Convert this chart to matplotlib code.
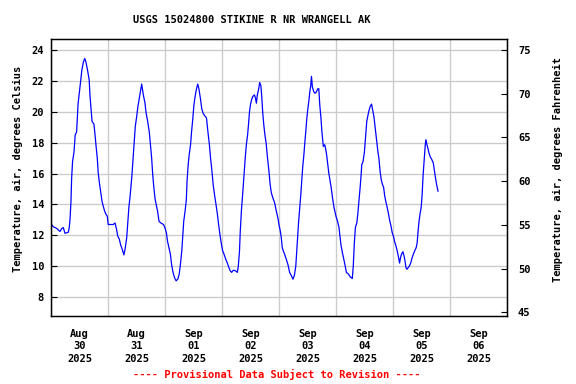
import pandas as pd
import numpy as np
import matplotlib
matplotlib.use("Agg")
import matplotlib.pyplot as plt
import matplotlib.dates as mdates

# heures depuis 2025-08-30 00:00
hours = [
    0, 1, 2.4, 3.8, 4.6, 5.2, 5.9, 7.3, 7.7, 8, 8.4, 8.7, 9.1, 9.7, 10.2, 10.8, 11.4, 12, 12.5, 13,
    13.6, 14.2, 14.7, 15.4, 16.1, 16.4, 17, 17.3, 18.1, 18.5, 19, 19.5, 19.9, 20.4, 20.9, 21.5, 22,
    22.6, 23.2, 23.7, 24.1, 24.8, 26.2, 27, 27.6, 28.1, 28.8, 29.3, 30, 30.7, 31.2, 31.9, 32.3, 32.8,
    33.3, 33.7, 34.1, 34.5, 35.1, 35.5, 36.1, 36.6, 37.2, 37.8, 38.2, 38.9, 39.6,
    40, 40.7, 41.4, 41.8, 42.4, 42.8, 43.2, 43.8, 44.3, 44.9, 45.5, 46.3, 47.4, 48, 48.6, 49.1, 49.7,
    50.3, 50.8, 51.4, 52, 52.7, 53.4, 54, 54.5, 55.1, 55.5, 55.9, 56.5, 57, 57.3, 57.8, 58.2, 58.8,
    59.2, 59.7, 60.2, 60.7, 61.3, 61.8, 62.3, 63, 63.5, 64.1, 64.7, 65.5, 66.1, 66.7, 67.2, 67.8,
    68.3, 68.9, 69.5, 70.1, 70.6, 71.2, 71.8, 72.3, 72.9, 73.6, 74.3, 74.8, 75.5, 76.1, 76.8, 77.7,
    78.5, 78.9,
    79.4, 79.7, 80.2, 80.6, 81.1, 81.5, 81.9, 82.3, 82.8, 83.2, 83.6, 84, 84.5, 85, 85.7, 86.1, 86.5,
    86.9, 87.5, 87.9, 88.4, 88.8, 89.2, 89.6, 90.1, 90.6, 91.2, 91.8, 92.3, 92.8, 93.5, 94.2, 94.9,
    95.6, 96, 96.6, 97, 97.4, 97.8, 98.4, 99.1, 99.8, 100.5, 101.2, 101.9, 102.5, 103.1, 103.5,
    103.9, 104.3, 104.8, 105.2, 105.6, 106, 106.5, 106.9, 107.3, 107.7, 108.1, 108.6, 109, 109.4,
    109.7, 110.1, 110.7, 111.2, 111.8, 112.4, 112.8, 113.2, 113.7, 114.1, 114.7, 115.3, 115.6,
    116.1, 116.5, 117, 117.6, 118, 118.6, 119.2,
    120, 120.7, 121.3, 121.7, 122.1, 122.7, 123.2, 123.8, 124.4, 125.2, 126.1, 126.9, 127.3, 127.8,
    128.2, 128.8, 129.2, 129.7, 130.2, 130.6, 130.9, 131.4, 132, 132.6, 133, 133.4, 133.8, 134.4,
    135, 135.5, 136, 136.4, 136.8, 137.2, 137.7, 138.1, 138.6, 139.1, 139.6, 140.1, 140.5, 141,
    141.6, 142.2, 142.6, 143.2, 143.7, 144.3, 144.7, 145.3, 145.8, 146.4, 146.8, 147.2, 147.6,
    148.2, 148.7, 149.1, 149.5, 149.9, 150.4, 150.9, 151.5, 152.1, 152.6, 153.2, 153.8, 154.2,
    154.6, 155, 155.5, 155.9, 156.3, 156.7, 157.2, 157.6, 157.9, 158.3, 158.7, 159.2, 159.7,
    160.4, 161, 161.4, 161.8, 162.4, 163,
]

temp_c = [
    12.75, 12.55, 12.45, 12.25, 12.45, 12.5, 12.13, 12.2, 12.5, 13.0, 14.1, 15.7, 16.8, 17.4, 18.5,
    18.7, 20.5, 21.3, 22.0, 22.7, 23.2, 23.46, 23.25, 22.7, 22.06, 21.1, 20.0, 19.38, 19.2, 18.6,
    17.76, 17.0, 16.04, 15.4, 14.86, 14.2, 13.9, 13.57, 13.35, 13.25, 12.7, 12.7, 12.7, 12.8, 12.4,
    11.96, 11.74, 11.4, 11.1, 10.73, 11.1, 11.85, 12.7, 13.8, 14.5, 15.2, 15.9, 16.8, 18.2, 19.05,
    19.7, 20.34, 20.9, 21.5, 21.8, 21.1, 20.56,
    20.0, 19.4, 18.7, 18.0, 17.0, 16.04, 15.3, 14.4, 14.0, 13.57, 12.9, 12.8, 12.7, 12.5, 12.17,
    11.6, 11.2, 10.77, 10.1, 9.6, 9.27, 9.05, 9.16, 9.48, 10.1, 11.0, 12.0, 12.9, 13.6, 14.3, 15.5,
    16.6, 17.2, 17.9, 18.7, 19.5, 20.45, 21.0, 21.5, 21.8, 21.5, 20.8, 20.2, 19.9, 19.76, 19.6,
    18.7, 17.9, 17.0, 16.15, 15.3, 14.6, 14.0, 13.35, 12.7, 12.0, 11.4, 11.0, 10.77, 10.45, 10.2,
    9.96, 9.7, 9.6, 9.74, 9.7, 9.6, 10.02,
    11.0, 12.2, 13.6, 14.4, 15.5, 16.4, 17.2, 17.9, 18.5, 19.2, 20.0, 20.45, 20.8, 21.0, 21.1, 20.9,
    20.56, 21.1, 21.5, 21.9, 21.7, 20.9, 19.9, 19.2, 18.5, 18.0, 17.0, 16.15, 15.3, 14.75, 14.4,
    14.1, 13.57, 13.1, 12.7, 12.26, 11.85, 11.2, 11.0, 10.77, 10.45, 10.1, 9.6, 9.4, 9.16, 9.4,
    10.0, 11.0, 11.9, 12.9, 13.8, 14.6, 15.5, 16.4, 17.2, 18.0, 18.7, 19.5, 20.1, 20.7, 21.3, 21.7,
    22.3, 21.6, 21.3, 21.2, 21.3, 21.5, 21.5, 20.45, 19.6, 18.7, 17.76, 17.87, 17.66, 17.2, 16.7,
    16.04, 15.5, 15.1, 14.4, 13.8,
    13.25, 12.9, 12.5, 11.96, 11.4, 10.9, 10.55, 10.1, 9.6, 9.5, 9.3, 9.2, 10.0, 11.6, 12.5, 12.8,
    13.35, 14.2, 15.1, 15.9, 16.6, 16.75, 17.4, 18.6, 19.4, 19.7, 20.0, 20.34, 20.5, 20.1, 19.7,
    19.16, 18.6, 18.1, 17.4, 17.0, 16.15, 15.6, 15.3, 15.1, 14.6, 14.2, 13.8, 13.35, 13.0, 12.6,
    12.17, 11.9, 11.6, 11.3, 11.0, 10.55, 10.2, 10.55, 10.77, 10.94, 10.66, 10.34, 9.9, 9.8, 9.9,
    10.0, 10.2, 10.55, 10.77, 11.0, 11.2, 11.5, 12.26, 12.9, 13.46, 13.8, 14.6, 15.85, 16.9, 17.8,
    18.2, 17.9, 17.66, 17.33, 17.1, 16.9, 16.7, 16.26, 15.85, 15.3, 14.86,
]

start = pd.Timestamp("2025-08-30 00:00")
end = pd.Timestamp("2025-09-07 00:00")
times = start + pd.to_timedelta(hours, unit="h")

c_ticks = [8, 10, 12, 14, 16, 18, 20, 22, 24]
f_ticks = [45, 50, 55, 60, 65, 70, 75]

font = "DejaVu Sans Mono"
fs = 7.5

fig = plt.figure(figsize=(5.76, 3.84), dpi=100)
ax = fig.add_axes([0.0885, 0.177, 0.7915, 0.721])

ax.plot(times, temp_c, color="#0000ff", linewidth=0.9)

ax.set_xlim(start, end)
ax.set_ylim(6.77, 24.71)

# grille verticale a minuit, etiquettes a midi
ax.xaxis.set_major_locator(mdates.DayLocator())
ax.xaxis.set_major_formatter(plt.NullFormatter())
ax.xaxis.set_minor_locator(mdates.HourLocator(byhour=[12]))
ax.xaxis.set_minor_formatter(mdates.DateFormatter("%b\n%d\n%Y"))
ax.tick_params(axis="x", which="both", length=0, pad=9)
for lab in ax.get_xticklabels(minor=True):
    lab.set_fontfamily(font)
    lab.set_fontweight("bold")
    lab.set_fontsize(fs)
    lab.set_linespacing(1.35)

ax.set_yticks(c_ticks)
ax.tick_params(axis="y", direction="in", length=4, width=0.8, pad=5)
for lab in ax.get_yticklabels():
    lab.set_fontfamily(font)
    lab.set_fontweight("bold")
    lab.set_fontsize(fs)

ax.grid(True, which="major", color="#cccccc", linewidth=1)
ax.set_axisbelow(True)
for s in ax.spines.values():
    s.set_linewidth(1.0)

ax.set_ylabel("Temperature, air, degrees Celsius", fontfamily=font, fontweight="bold",
              fontsize=fs)
ax.yaxis.set_label_coords(-0.061, 0.53)

ax2 = ax.twinx()
ax2.set_ylim(44.58, 76.22)
ax2.set_yticks(f_ticks)
ax2.tick_params(axis="y", direction="in", length=4, width=0.8, pad=8)
for lab in ax2.get_yticklabels():
    lab.set_fontfamily(font)
    lab.set_fontweight("bold")
    lab.set_fontsize(fs)
ax2.set_ylabel("Temperature, air, degrees Fahrenheit", fontfamily=font, fontweight="bold",
               fontsize=fs)
ax2.yaxis.set_label_coords(1.101, 0.53)

fig.text(0.437, 0.948, "USGS 15024800 STIKINE R NR WRANGELL AK", ha="center", va="center",
         fontfamily=font, fontweight="bold", fontsize=fs)
fig.text(0.481, 0.024, "---- Provisional Data Subject to Revision ----", ha="center",
         va="center", fontfamily=font, fontweight="bold", fontsize=fs, color="#ff0000")

fig.savefig("out.png", dpi=100)
